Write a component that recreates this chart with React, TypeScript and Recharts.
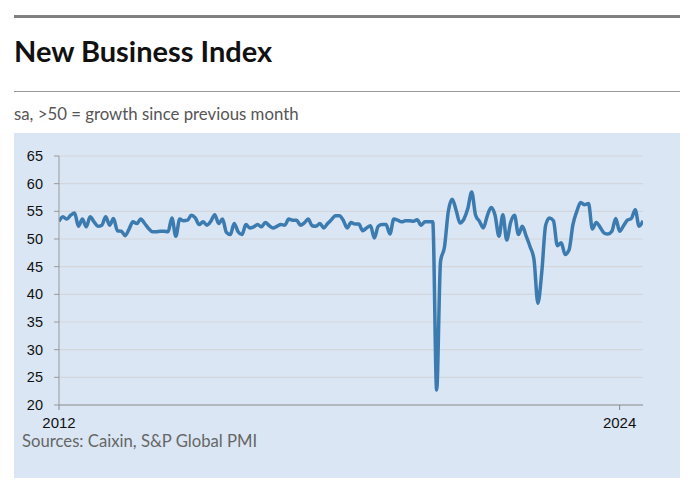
import React from "react";
import { LineChart, Line, XAxis, YAxis, CartesianGrid } from "recharts";

// monthly new business index, Jan 2012 - Jul 2024
const v2012 = [53.2, 54.0, 53.6, 54.3, 54.7, 52.3, 53.6, 52.2, 54.0, 53.1, 52.3, 52.5];
const v2013 = [54.0, 52.5, 53.7, 51.5, 51.4, 50.6, 51.8, 53.1, 52.8, 53.6, 52.8, 51.9];
const v2014 = [51.3, 51.3, 51.4, 51.4, 51.3, 53.8, 50.5, 53.6, 53.3, 53.4, 54.3, 53.8];
const v2015 = [52.6, 53.1, 52.5, 53.2, 54.4, 52.8, 53.6, 51.2, 50.8, 52.8, 51.3, 50.8];
const v2016 = [52.6, 52.0, 52.2, 52.6, 52.2, 53.0, 52.4, 52.0, 52.3, 52.6, 52.5, 53.6];
const v2017 = [53.4, 53.4, 52.5, 52.9, 53.6, 52.4, 52.3, 52.8, 52.0, 52.8, 53.5, 54.2];
const v2018 = [54.2, 53.4, 52.0, 53.0, 52.7, 52.7, 51.5, 52.0, 52.4, 50.2, 52.3, 52.6];
const v2019 = [52.6, 50.9, 53.6, 53.4, 53.1, 53.3, 53.3, 53.2, 53.5, 52.5, 53.1, 53.1];
const v2020 = [53.1, 22.7, 46.0, 48.5, 55.0, 57.2, 55.2, 52.9, 53.6, 55.5, 58.5, 54.3];
const v2021 = [53.2, 52.0, 54.2, 55.7, 54.3, 50.5, 54.4, 49.8, 53.0, 54.3, 50.8, 52.3];
const v2022 = [50.5, 48.6, 46.3, 38.4, 44.0, 52.5, 53.8, 53.3, 48.8, 49.3, 47.2, 48.0];
const v2023 = [52.6, 55.0, 56.6, 56.2, 56.4, 51.8, 53.0, 52.1, 51.1, 50.9, 51.4, 53.7];
const v2024 = [51.4, 52.4, 53.4, 53.7, 55.3, 52.3, 53.3];

const years = [2012, 2013, 2014, 2015, 2016, 2017, 2018, 2019, 2020, 2021, 2022, 2023, 2024];
const yearValues = [v2012, v2013, v2014, v2015, v2016, v2017, v2018, v2019, v2020, v2021, v2022, v2023, v2024];

const xTickLabels = ["2012", "2024"];
const yTicks = [20, 25, 30, 35, 40, 45, 50, 55, 60, 65];

const data: { m: number; label: string; value: number }[] = [];
yearValues.forEach((vals, yi) => {
  vals.forEach((value, mi) => {
    data.push({ m: data.length, label: `${years[yi]}-${mi + 1}`, value });
  });
});

const PANEL = "#dae6f4";
const sans = "Lato, 'Open Sans', sans-serif";

export default function App() {
  return (
    <div style={{ position: "absolute", left: 0, top: 0, width: 698, height: 487, background: "#fff", fontFamily: sans }}>
      <div style={{ position: "absolute", left: 14, top: 15, width: 666, height: 3, background: "#808080" }} />
      <div style={{ position: "absolute", left: 14, top: 34, fontSize: 29, fontWeight: 700, color: "#111", lineHeight: "34px" }}>
        New Business Index
      </div>
      <div style={{ position: "absolute", left: 14, top: 91, width: 666, height: 1, background: "#999" }} />
      <div style={{ position: "absolute", left: 14, top: 103, fontSize: 16.8, color: "#555", lineHeight: "21px" }}>
        sa, &gt;50 = growth since previous month
      </div>
      <div style={{ position: "absolute", left: 14, top: 133, width: 666, height: 345, background: PANEL }} />
      <div style={{ position: "absolute", left: 0, top: 0 }}>
        <LineChart width={698} height={487} data={data} margin={{ top: 156, right: 55, bottom: 52, left: 14 }}>
          <CartesianGrid vertical={false} stroke="#d3d6da" strokeWidth={1.2} horizontalValues={[25, 30, 35, 40, 45, 50, 55, 60, 65]} />
          <XAxis
            dataKey="m"
            type="number"
            domain={[0, 150]}
            ticks={[0, 144]}
            tickFormatter={(v: number) => (v === 0 ? xTickLabels[0] : xTickLabels[1])}
            stroke="#888"
            tickSize={5}
            tickMargin={7}
            height={30}
            tick={{ fill: "#111", fontSize: 15, fontFamily: "'Liberation Sans', Arial, sans-serif" }}
            allowDataOverflow
          />
          <YAxis
            domain={[20, 65]}
            ticks={yTicks}
            width={45}
            stroke="#999"
            tickSize={5}
            tickMargin={11}
            tick={{ fill: "#111", fontSize: 14.5, fontFamily: "'Liberation Sans', Arial, sans-serif" }}
          />
          <Line type="monotone" dataKey="value" stroke="#3c7bb0" strokeWidth={3.5} dot={false} isAnimationActive={false} />
        </LineChart>
      </div>
      <div style={{ position: "absolute", left: 22, top: 432, fontSize: 16.7, color: "#666", lineHeight: "18px" }}>
        Sources: Caixin, S&amp;P Global PMI
      </div>
    </div>
  );
}
